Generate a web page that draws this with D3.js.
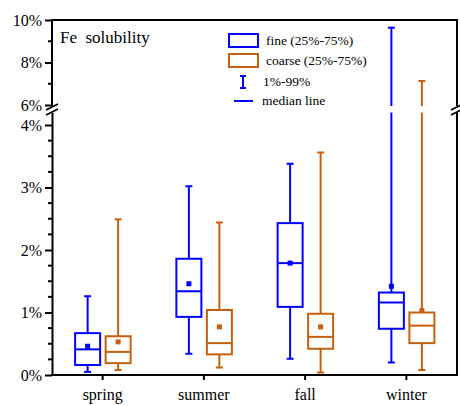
<!DOCTYPE html>
<html>
<head>
<meta charset="utf-8">
<script src="https://cdn.jsdelivr.net/npm/d3@7"></script>
<style>
  body { margin: 0; background: #fff; }
</style>
</head>
<body>
<div id="chart"></div>
<script>
const seasons = ["spring", "summer", "fall", "winter"];

// fine particles: 1%, 25%, median, 75%, 99%, mean (percent)
const fineP1 = [0.05, 0.34, 0.26, 0.20];
const fineQ1 = [0.16, 0.93, 1.09, 0.74];
const fineMed = [0.41, 1.34, 1.79, 1.16];
const fineQ3 = [0.67, 1.86, 2.43, 1.32];
const fineP99 = [1.26, 3.02, 3.38, 9.64];
const fineMean = [0.46, 1.46, 1.79, 1.42];

// coarse particles
const coarseP1 = [0.08, 0.12, 0.04, 0.08];
const coarseQ1 = [0.19, 0.33, 0.42, 0.51];
const coarseMed = [0.37, 0.51, 0.61, 0.79];
const coarseQ3 = [0.62, 1.04, 0.98, 1.00];
const coarseP99 = [2.49, 2.44, 3.56, 7.13];
const coarseMean = [0.53, 0.77, 0.77, 1.03];

const lowTicks = [0, 1, 2, 3, 4];
const highTicks = [6, 8, 10];

const width = 460, height = 405;
const blue = "#0000ff", orange = "#c4600f";
const serif = "'Liberation Serif', 'Times New Roman', serif";

const svg = d3.select("#chart")
  .append("svg")
  .attr("width", width)
  .attr("height", height);

const mLeft = 52, mRight = 457, mBottom = 375, mTop = 20;

const x = d3.scaleBand().domain(seasons).range([mLeft, mRight]);
const cut = 4.2;
const yLow = d3.scaleLinear().domain([0, cut]).range([mBottom, 112.5]);
const yHigh = d3.scaleLinear().domain([6, 10]).range([105, mTop]);
const y = v => v <= cut ? yLow(v) : yHigh(v);

// left axes (two segments)
const axLow = svg.append("g")
  .attr("transform", `translate(${mLeft},0)`)
  .call(d3.axisLeft(yLow).tickValues(lowTicks).tickFormat(d => d + "%").tickSize(7).tickSizeOuter(0).tickPadding(3));
const axHigh = svg.append("g")
  .attr("transform", `translate(${mLeft},0)`)
  .call(d3.axisLeft(yHigh).tickValues(highTicks).tickFormat(d => d + "%").tickSize(7).tickSizeOuter(0).tickPadding(3));
axHigh.select(".domain").attr("d", `M0,${mTop - 1}V${yHigh(5.95)}`);
[axLow, axHigh].forEach(ax => {
  ax.attr("font-family", serif).attr("font-size", 16);
  ax.select(".domain").attr("stroke-width", 2);
  ax.selectAll(".tick line").attr("stroke-width", 2);
  ax.selectAll(".tick text").attr("fill", "#000");
});

// minor ticks
const lowMinor = [0.25, 0.5, 0.75, 1.25, 1.5, 1.75, 2.25, 2.5, 2.75, 3.25, 3.5, 3.75];
const highMinor = [7, 9];
svg.append("g").selectAll("line")
  .data(lowMinor.map(yLow).concat(highMinor.map(yHigh)))
  .join("line")
  .attr("x1", mLeft - 4).attr("x2", mLeft)
  .attr("y1", d => d).attr("y2", d => d)
  .attr("stroke", "#000").attr("stroke-width", 2);

// frame: top, right
svg.append("line").attr("x1", mLeft).attr("x2", mRight).attr("y1", mTop).attr("y2", mTop)
  .attr("stroke", "#000").attr("stroke-width", 2);
svg.append("line").attr("x1", mRight).attr("x2", mRight).attr("y1", mTop - 1).attr("y2", yHigh(5.95))
  .attr("stroke", "#000").attr("stroke-width", 2);
svg.append("line").attr("x1", mRight).attr("x2", mRight).attr("y1", yLow(cut)).attr("y2", mBottom)
  .attr("stroke", "#000").attr("stroke-width", 2);

// bottom axis
const axX = svg.append("g")
  .attr("transform", `translate(0,${mBottom})`)
  .call(d3.axisBottom(x).tickSize(5).tickSizeOuter(0).tickPadding(9));
axX.attr("font-family", serif).attr("font-size", 16);
axX.select(".domain").attr("stroke-width", 2).attr("d", `M${mLeft - 1},0H${mRight + 1}`);
axX.selectAll(".tick line").attr("stroke-width", 2);
axX.selectAll(".tick text").attr("fill", "#000");

// break marks
[mLeft, mRight].forEach(cx => {
  [0, 5].forEach(dy => {
    svg.append("line")
      .attr("x1", cx - 6).attr("y1", 110 + dy)
      .attr("x2", cx + 6).attr("y2", 104 + dy)
      .attr("stroke", "#000").attr("stroke-width", 1.8);
  });
});

// boxes
const boxW = 25, capW = 7;
function drawBoxes(p1, q1, med, q3, p99, mean, off, color) {
  const g = svg.append("g").attr("stroke", color).attr("stroke-width", 2).attr("fill", "none");
  seasons.forEach((s, i) => {
    const cx = x(s) + x.bandwidth() / 2 + off;
    // lower whisker
    g.append("line").attr("x1", cx).attr("x2", cx).attr("y1", y(q1[i])).attr("y2", y(p1[i]));
    g.append("line").attr("x1", cx - capW / 2).attr("x2", cx + capW / 2).attr("y1", y(p1[i])).attr("y2", y(p1[i]));
    // upper whisker, split at the axis break
    if (p99[i] <= cut) {
      g.append("line").attr("x1", cx).attr("x2", cx).attr("y1", y(q3[i])).attr("y2", y(p99[i]));
    } else {
      g.append("line").attr("x1", cx).attr("x2", cx).attr("y1", y(q3[i])).attr("y2", yLow(cut));
      g.append("line").attr("x1", cx).attr("x2", cx).attr("y1", yHigh(5.95)).attr("y2", y(p99[i]));
    }
    g.append("line").attr("x1", cx - capW / 2).attr("x2", cx + capW / 2).attr("y1", y(p99[i])).attr("y2", y(p99[i]));
    // box
    g.append("rect")
      .attr("x", cx - boxW / 2).attr("y", y(q3[i]))
      .attr("width", boxW).attr("height", y(q1[i]) - y(q3[i]))
      .attr("fill", "#fff");
    g.append("line").attr("x1", cx - boxW / 2).attr("x2", cx + boxW / 2).attr("y1", y(med[i])).attr("y2", y(med[i]));
    // mean
    g.append("rect")
      .attr("x", cx - 2.5).attr("y", y(mean[i]) - 2.5)
      .attr("width", 5).attr("height", 5)
      .attr("fill", color).attr("stroke", "none");
  });
}
drawBoxes(fineP1, fineQ1, fineMed, fineQ3, fineP99, fineMean, -15, blue);
drawBoxes(coarseP1, coarseQ1, coarseMed, coarseQ3, coarseP99, coarseMean, 15.5, orange);

// title
svg.append("text").attr("x", 60).attr("y", 43)
  .attr("font-family", serif).attr("font-size", 17)
  .style("white-space", "pre")
  .text("Fe  solubility");

// legend
const lg = svg.append("g");
lg.append("rect").attr("x", 229).attr("y", 34).attr("width", 29).attr("height", 13)
  .attr("fill", "none").attr("stroke", blue).attr("stroke-width", 2);
lg.append("rect").attr("x", 229).attr("y", 54).attr("width", 29).attr("height", 13)
  .attr("fill", "none").attr("stroke", orange).attr("stroke-width", 2);
lg.append("path").attr("d", "M240,76H246M243,76V88M240,88H246")
  .attr("fill", "none").attr("stroke", blue).attr("stroke-width", 2);
lg.append("line").attr("x1", 234).attr("x2", 253).attr("y1", 101).attr("y2", 101)
  .attr("stroke", blue).attr("stroke-width", 2);
const legText = [["fine (25%-75%)", 266, 45], ["coarse (25%-75%)", 266, 65], ["1%-99%", 263, 86], ["median line", 262, 105]];
lg.selectAll("text").data(legText).join("text")
  .attr("x", d => d[1]).attr("y", d => d[2])
  .attr("font-family", serif).attr("font-size", 13.5)
  .text(d => d[0]);
</script>
</body>
</html>
